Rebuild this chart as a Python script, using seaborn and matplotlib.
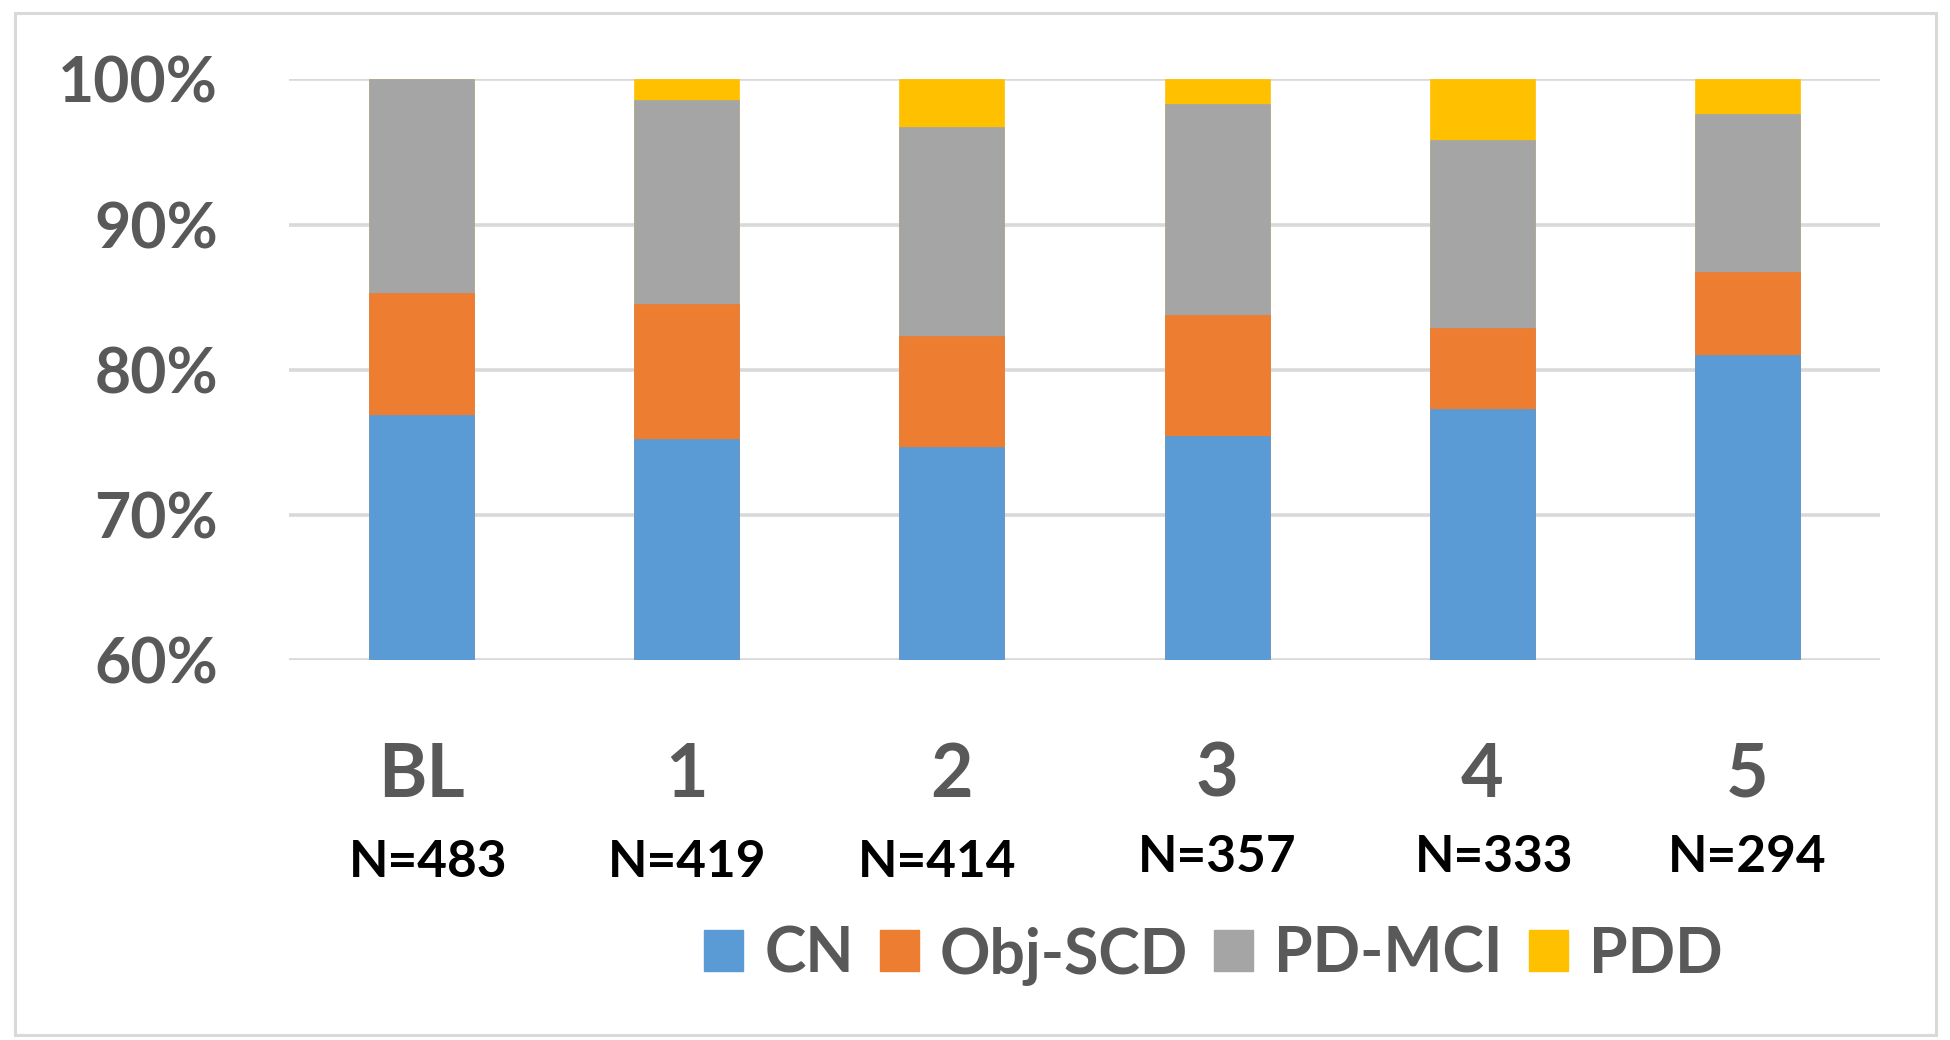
import numpy as np
import pandas as pd
import matplotlib
matplotlib.use("Agg")
import matplotlib.pyplot as plt
from matplotlib.patches import Patch, Rectangle
from matplotlib.ticker import PercentFormatter
import matplotlib.transforms as mtransforms
import seaborn as sns

# ---- data (percent of participants) ----
visits = ["BL", "1", "2", "3", "4", "5"]
n_labels = ["N=483", "N=419", "N=414", "N=357", "N=333", "N=294"]
cn = [76.9, 75.2, 74.7, 75.4, 77.3, 81.0]
obj_scd = [8.4, 9.3, 7.6, 8.4, 5.6, 5.7]
pd_mci = [14.7, 14.1, 14.4, 14.5, 12.9, 10.9]
pdd = [0.0, 1.4, 3.3, 1.7, 4.2, 2.4]
series_names = ["CN", "Obj-SCD", "PD-MCI", "PDD"]

colors = ["#5B9BD5", "#ED7D31", "#A5A5A5", "#FFC000"]

sns.set_theme(style="white")
plt.rcParams["font.family"] = ["Lato", "DejaVu Sans"]

df = pd.DataFrame({"visit": visits, "CN": cn, "Obj-SCD": obj_scd,
                   "PD-MCI": pd_mci, "PDD": pdd})
cum = df[series_names].cumsum(axis=1) / 100.0

fig = plt.figure(figsize=(19.5, 10.4), dpi=100)
ax = fig.add_axes([0.1482, 0.3654, 0.8159, 0.5582])

# draw stacked bars from top segment down so each lower segment overlays
for name, col in reversed(list(zip(series_names, colors))):
    sns.barplot(x=df["visit"], y=cum[name], color=col, width=0.396,
                saturation=1, errorbar=None, ax=ax, order=visits,
                edgecolor=col, linewidth=0.5, zorder=2)

ax.set_ylim(0.6, 1.0)
ax.set_xlim(-0.5, 5.5)
ax.set_yticks([0.6, 0.7, 0.8, 0.9, 1.0])
ax.yaxis.set_major_formatter(PercentFormatter(1.0, decimals=0))
ax.set_xlabel("")
ax.set_ylabel("")
ax.grid(axis="y", color="#D9D9D9", linewidth=2.6, zorder=0)
ax.grid(axis="x", visible=False)
ax.set_axisbelow(True)
for s in ax.spines.values():
    s.set_visible(False)

ax.tick_params(axis="y", length=0, pad=51, labelsize=45, labelcolor="#595959")
ax.tick_params(axis="x", length=0, pad=58, labelsize=53, labelcolor="#595959")
for lab in ax.get_yticklabels() + ax.get_xticklabels():
    lab.set_fontweight("bold")

# N labels under categories
trans = mtransforms.blended_transform_factory(ax.transData, ax.transAxes)
n_dx = [0.026, 0.0, -0.057, 0.0, 0.043, 0.0]
n_y = [-0.374, -0.374, -0.374, -0.365, -0.365, -0.365]
for i, lab in enumerate(n_labels):
    ax.text(i + n_dx[i], n_y[i], lab, transform=trans, ha="center",
            va="baseline", fontsize=37, fontweight="bold", color="black")

handles = [Patch(facecolor=c, edgecolor=c) for c in colors]
leg = fig.legend(handles, series_names, loc="center",
                 bbox_to_anchor=(0.6223, 0.0817), ncol=4, frameon=False,
                 prop={"size": 45, "weight": "bold"}, handlelength=0.62,
                 handleheight=0.65, handletextpad=0.34, columnspacing=0.42,
                 borderpad=0, borderaxespad=0)
for t in leg.get_texts():
    t.set_color("#595959")

fig.patches.append(Rectangle((15 / 1950, 1 - 1035 / 1040),
                             (1936 - 15) / 1950, (1035 - 12.5) / 1040,
                             transform=fig.transFigure, fill=False,
                             edgecolor="#D9D9D9", linewidth=2.2))

fig.savefig("out.png", dpi=100, facecolor="white")
